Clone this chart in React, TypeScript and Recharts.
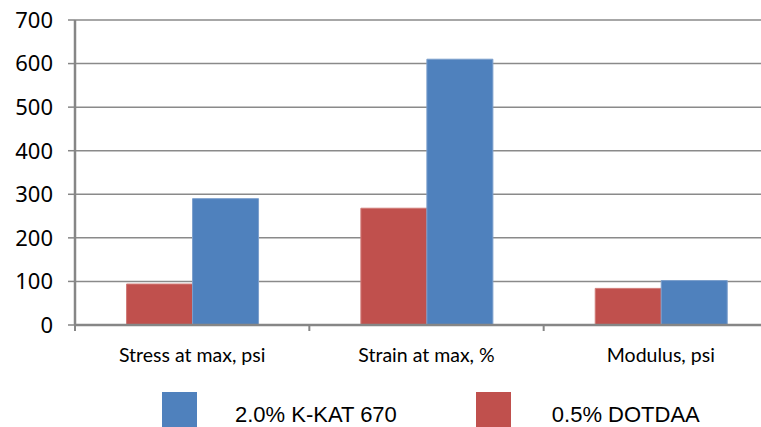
import React from "react";
import { Bar, BarChart, CartesianGrid, Legend, XAxis, YAxis } from "recharts";

const categories = ["Stress at max, psi", "Strain at max, %", "Modulus, psi"];
const dotdaa = [94, 268, 84];
const kkat = [290, 610, 102];
const yTicks = [0, 100, 200, 300, 400, 500, 600, 700];

const BLUE = "#4f81bd";
const RED = "#c0504d";
const AXIS_GREY = "#868686";

const chartData = categories.map((name, i) => ({
  name,
  dotdaa: dotdaa[i],
  kkat: kkat[i],
}));

// legend lists the blue series first, even though its bars sit on the right
const legendItems = [
  { label: "2.0% K-KAT 670", color: BLUE, gap: 38 },
  { label: "0.5% DOTDAA", color: RED, gap: 41 },
];

function CategoryTick(props: any) {
  const { x, y, payload, index } = props;
  const half = payload?.offset ?? 117;
  const isLast = index === categories.length - 1;
  return (
    <g>
      <line x1={x - half} y1={y} x2={x - half} y2={y + 6} stroke={AXIS_GREY} strokeWidth={2} />
      {isLast && (
        <line x1={x + half} y1={y} x2={x + half} y2={y + 6} stroke={AXIS_GREY} strokeWidth={2} />
      )}
      <text
        x={x}
        y={y + 37}
        textAnchor="middle"
        fontFamily="Lato, 'Noto Sans', sans-serif"
        fontSize={19.5}
        fill="#000"
      >
        {payload.value}
      </text>
    </g>
  );
}

function LegendContent() {
  return (
    <div style={{ display: "flex", paddingLeft: 162, height: 48 }}>
      {legendItems.map((item, i) => (
        <div
          key={item.label}
          style={{ display: "flex", alignItems: "flex-start", marginRight: i === 0 ? 79 : 0 }}
        >
          <div style={{ width: 35, height: 35, background: item.color }} />
          <span
            style={{
              marginLeft: item.gap,
              fontFamily: "'Liberation Sans', Arial, sans-serif",
              fontSize: 22,
              lineHeight: "22px",
              marginTop: 12,
              color: "#000",
              whiteSpace: "nowrap",
            }}
          >
            {item.label}
          </span>
        </div>
      ))}
    </div>
  );
}

export default function App() {
  return (
    <div
      style={{
        position: "absolute",
        left: 0,
        top: 0,
        width: 761,
        height: 427,
        overflow: "hidden",
        background: "#fff",
      }}
    >
      <BarChart
        width={792}
        height={440}
        data={chartData}
        margin={{ top: 20, right: 14, left: 0, bottom: 0 }}
        barCategoryGap="22%"
        barGap={0}
      >
        <CartesianGrid vertical={false} stroke="#8a8a8a" strokeWidth={1.5} />
        <XAxis
          dataKey="name"
          height={67}
          axisLine={{ stroke: AXIS_GREY, strokeWidth: 2.5 }}
          tickLine={false}
          tickSize={0}
          tickMargin={0}
          interval={0}
          tick={<CategoryTick />}
        />
        <YAxis
          width={75}
          domain={[0, 700]}
          ticks={yTicks}
          interval={0}
          axisLine={{ stroke: AXIS_GREY, strokeWidth: 2.5 }}
          tickLine={{ stroke: AXIS_GREY, strokeWidth: 1.5 }}
          tickSize={7}
          tickMargin={15}
          tick={{ fontFamily: "'Noto Sans', sans-serif", fontSize: 22, fill: "#000" }}
        />
        <Legend verticalAlign="bottom" align="left" height={48} content={<LegendContent />} />
        <Bar dataKey="dotdaa" name="0.5% DOTDAA" fill={RED} stroke="#d07a77" strokeWidth={1} isAnimationActive={false} />
        <Bar dataKey="kkat" name="2.0% K-KAT 670" fill={BLUE} stroke="#7c9fcc" strokeWidth={1} isAnimationActive={false} />
      </BarChart>
    </div>
  );
}
